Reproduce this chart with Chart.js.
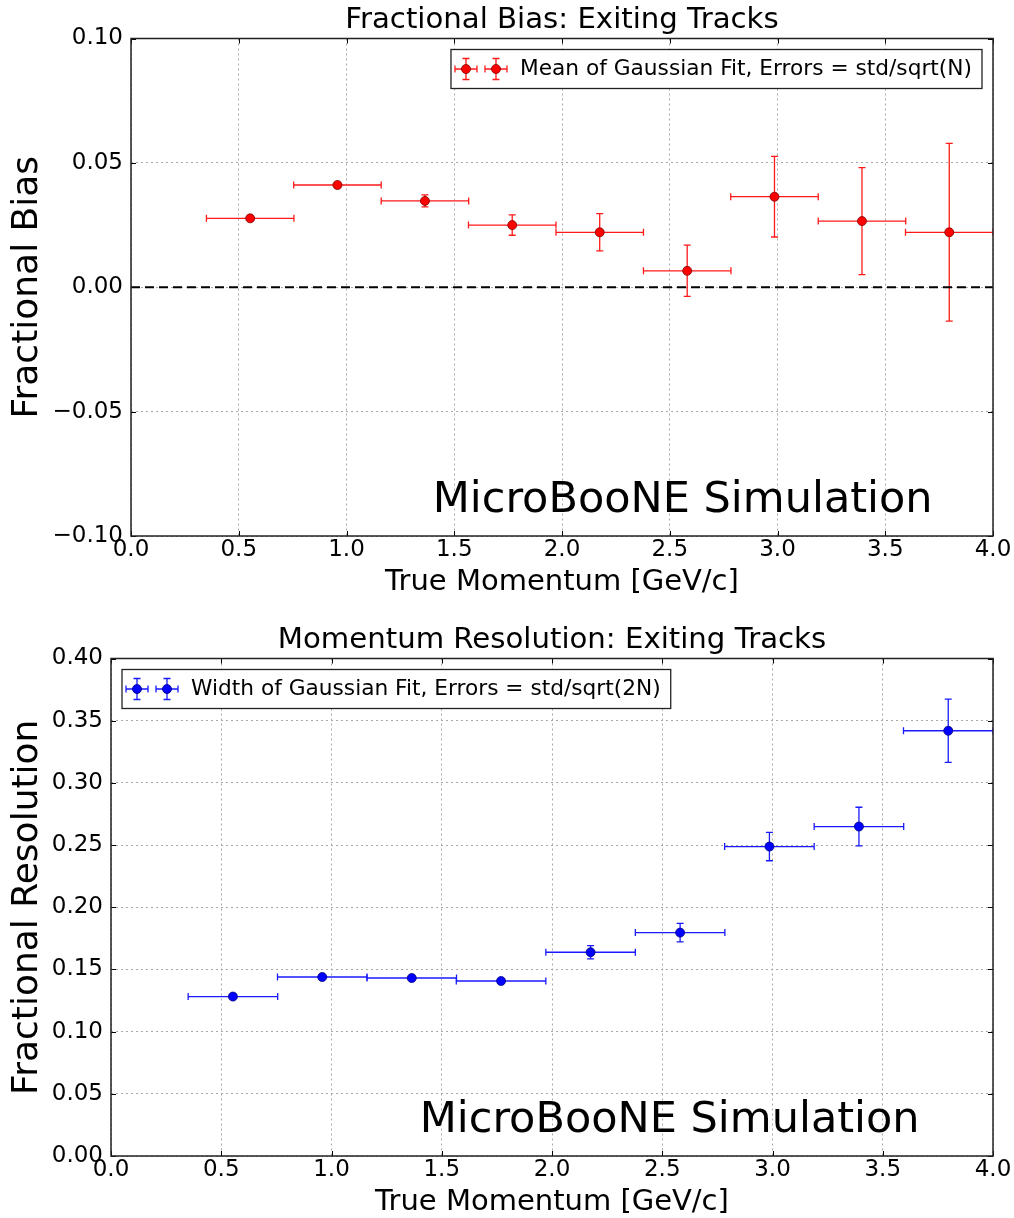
<!DOCTYPE html>
<html>
<head>
<meta charset="utf-8">
<script src="https://cdn.jsdelivr.net/npm/chart.js@4.4.0/dist/chart.umd.min.js"></script>
<style>
  html, body { margin: 0; padding: 0; background: #fff; }
  #page { position: relative; width: 1014px; height: 1218px; }
  .panel { position: absolute; left: 0; width: 1014px; height: 598px; }
</style>
</head>
<body>
<div id="page">
  <div class="panel" style="top:0"><canvas id="biasChart" width="1014" height="598"></canvas></div>
  <div class="panel" style="top:620px"><canvas id="resChart" width="1014" height="598"></canvas></div>
</div>
<script>
// bin centres [GeV/c] and half bin widths, same binning in both panels
const momentum    = [0.553, 0.958, 1.364, 1.769, 2.175, 2.581, 2.986, 3.392, 3.797];
const momentumErr = [0.203, 0.203, 0.203, 0.203, 0.203, 0.203, 0.203, 0.203, 0.203];

// top panel: mean of gaussian fit
const biasMean = [0.0277, 0.0411, 0.0347, 0.0250, 0.0221, 0.0066, 0.0364, 0.0266, 0.0221];
const biasErr  = [0.0006, 0.0008, 0.0024, 0.0041, 0.0075, 0.0103, 0.0162, 0.0215, 0.0357];

// bottom panel: width of gaussian fit
const resWidth = [0.1282, 0.1439, 0.1431, 0.1407, 0.1638, 0.1796, 0.2488, 0.2649, 0.3419];
const resErr   = [0.0010, 0.0010, 0.0010, 0.0015, 0.0053, 0.0074, 0.0114, 0.0155, 0.0254];

const xTicks    = [0, 0.5, 1.0, 1.5, 2.0, 2.5, 3.0, 3.5, 4.0];
const biasTicks = [-0.10, -0.05, 0.00, 0.05, 0.10];
const resTicks  = [0, 0.05, 0.10, 0.15, 0.20, 0.25, 0.30, 0.35, 0.40];
const zeroLineX = [0, 4];

const FONT = "'DejaVu Sans', 'Liberation Sans', sans-serif";
Chart.defaults.font.family = FONT;
Chart.defaults.color = '#000';

const fmt = (v, d) => Number(v).toFixed(d).replace('-', '\u2212');

// matplotlib style error bars (drawn under the markers)
const errorBarPlugin = {
  id: 'errorBars',
  beforeDatasetsDraw(chart) {
    const { ctx, chartArea, scales: { x, y } } = chart;
    chart.data.datasets.forEach((ds) => {
      if (!ds.xErr) return;
      ctx.save();
      ctx.beginPath();
      ctx.rect(chartArea.left, chartArea.top, chartArea.width, chartArea.height);
      ctx.clip();
      ctx.strokeStyle = ds.errColor;
      ctx.lineWidth = 1.3;
      const cap = 3.5;
      ds.data.forEach((p, i) => {
        const px = x.getPixelForValue(p.x);
        const py = y.getPixelForValue(p.y);
        const x0 = x.getPixelForValue(p.x - ds.xErr[i]);
        const x1 = x.getPixelForValue(p.x + ds.xErr[i]);
        const y0 = y.getPixelForValue(p.y - ds.yErr[i]);
        const y1 = y.getPixelForValue(p.y + ds.yErr[i]);
        ctx.beginPath();
        ctx.moveTo(x0, py); ctx.lineTo(x1, py);
        ctx.moveTo(px, y0); ctx.lineTo(px, y1);
        ctx.moveTo(x0, py - cap); ctx.lineTo(x0, py + cap);
        ctx.moveTo(x1, py - cap); ctx.lineTo(x1, py + cap);
        ctx.moveTo(px - cap, y0); ctx.lineTo(px + cap, y0);
        ctx.moveTo(px - cap, y1); ctx.lineTo(px + cap, y1);
        ctx.stroke();
      });
      ctx.restore();
    });
  }
};

// frame on all four sides, inward ticks, watermark and boxed legend
const decorPlugin = {
  id: 'decor',
  afterDatasetsDraw(chart, args, opts) {
    const { ctx, scales: { x, y } } = chart;
    ctx.save();
    ctx.font = `43px ${FONT}`;
    ctx.fillStyle = '#000';
    ctx.textAlign = 'left';
    ctx.textBaseline = 'alphabetic';
    ctx.fillText(opts.stamp, x.getPixelForValue(opts.stampX), y.getPixelForValue(opts.stampY));
    ctx.restore();
  },
  afterDraw(chart, args, opts) {
    const { ctx, chartArea: a, scales: { x, y } } = chart;
    ctx.save();
    // ticks
    ctx.strokeStyle = '#000';
    ctx.lineWidth = 1;
    ctx.beginPath();
    x.ticks.forEach((t) => {
      const px = Math.round(x.getPixelForValue(t.value)) + 0.5;
      ctx.moveTo(px, a.bottom); ctx.lineTo(px, a.bottom - 5);
      ctx.moveTo(px, a.top); ctx.lineTo(px, a.top + 5);
    });
    y.ticks.forEach((t) => {
      const py = Math.round(y.getPixelForValue(t.value)) + 0.5;
      ctx.moveTo(a.left, py); ctx.lineTo(a.left + 5, py);
      ctx.moveTo(a.right, py); ctx.lineTo(a.right - 5, py);
    });
    ctx.stroke();
    ctx.strokeStyle = '#222';
    ctx.lineWidth = 1.5;
    ctx.strokeRect(a.left, a.top, a.right - a.left, a.bottom - a.top);

    // legend
    const ds = chart.data.datasets.find((d) => d.xErr);
    ctx.font = `21.7px ${FONT}`;
    const tw = ctx.measureText(ds.label).width;
    const w = 69 + tw + 10, h = 39;
    const left = opts.legendAlign === 'right' ? a.right - 11 - w : a.left + 11;
    const top = a.top + 11;
    ctx.fillStyle = '#fff';
    ctx.fillRect(left, top, w, h);
    ctx.strokeStyle = '#222';
    ctx.lineWidth = 1.3;
    ctx.strokeRect(left, top, w, h);
    const cy = top + h / 2;
    [15, 45].forEach((dx) => {
      const cx = left + dx;
      ctx.strokeStyle = ds.errColor;
      ctx.lineWidth = 1.3;
      ctx.beginPath();
      ctx.moveTo(cx - 11, cy); ctx.lineTo(cx + 11, cy);
      ctx.moveTo(cx, cy - 10.5); ctx.lineTo(cx, cy + 10.5);
      ctx.moveTo(cx - 11, cy - 3.5); ctx.lineTo(cx - 11, cy + 3.5);
      ctx.moveTo(cx + 11, cy - 3.5); ctx.lineTo(cx + 11, cy + 3.5);
      ctx.moveTo(cx - 3.5, cy - 10.5); ctx.lineTo(cx + 3.5, cy - 10.5);
      ctx.moveTo(cx - 3.5, cy + 10.5); ctx.lineTo(cx + 3.5, cy + 10.5);
      ctx.stroke();
      ctx.beginPath();
      ctx.arc(cx, cy, 4.5, 0, Math.PI * 2);
      ctx.fillStyle = ds.pointBackgroundColor;
      ctx.fill();
      ctx.strokeStyle = ds.pointBorderColor;
      ctx.lineWidth = 0.8;
      ctx.stroke();
    });
    ctx.fillStyle = '#000';
    ctx.textAlign = 'left';
    ctx.textBaseline = 'middle';
    ctx.fillText(ds.label, left + 69, cy);
    ctx.restore();
  }
};

function makeOptions(cfg) {
  return {
    responsive: false,
    animation: false,
    devicePixelRatio: 1,
    events: [],
    layout: { padding: { left: 0, right: 21, top: 0, bottom: 0 } },
    plugins: {
      legend: { display: false },
      tooltip: { enabled: false },
      title: {
        display: true,
        text: cfg.title,
        color: '#000',
        fullSize: false,
        font: { size: 29.2, weight: 'normal', lineHeight: 1 },
        padding: { top: 5.6, bottom: 3.7 }
      },
      decor: {
        stamp: 'MicroBooNE Simulation',
        stampX: 1.40,
        stampY: cfg.stampY,
        legendAlign: cfg.legendAlign
      }
    },
    scales: {
      x: {
        type: 'linear',
        min: 0,
        max: 4,
        afterBuildTicks: (axis) => { axis.ticks = xTicks.map((v) => ({ value: v })); },
        afterFit: (axis) => { axis.height = 62; },
        ticks: {
          autoSkip: false,
          maxRotation: 0,
          padding: 0.5,
          color: '#000',
          font: { size: 23, lineHeight: 1.2 },
          callback: (v) => fmt(v, 1)
        },
        grid: { color: '#a8a8a8', lineWidth: 1, drawTicks: false, borderDash: [2, 3] },
        border: { display: false, dash: [2, 3] },
        title: {
          display: true,
          text: 'True Momentum [GeV/c]',
          color: '#000',
          font: { size: 29, lineHeight: 1 },
          padding: { top: 0, bottom: 1.5 }
        }
      },
      y: {
        type: 'linear',
        min: cfg.yMin,
        max: cfg.yMax,
        afterBuildTicks: (axis) => { axis.ticks = cfg.yTicks.map((v) => ({ value: v })); },
        afterFit: (axis) => { axis.width = cfg.yWidth; },
        ticks: {
          padding: 8,
          color: '#000',
          font: { size: 23, lineHeight: 1.2 },
          callback: (v) => fmt(v, 2)
        },
        grid: { color: '#a8a8a8', lineWidth: 1, drawTicks: false, borderDash: [2, 3] },
        border: { display: false, dash: [2, 3] },
        title: {
          display: true,
          text: cfg.yTitle,
          color: '#000',
          font: { size: 36, lineHeight: 1 },
          padding: { top: 9.5, bottom: 0 }
        }
      }
    }
  };
}

new Chart(document.getElementById('biasChart'), {
  type: 'scatter',
  data: {
    datasets: [
      {
        type: 'line',
        label: 'zero',
        data: zeroLineX.map((x) => ({ x, y: 0 })),
        borderColor: '#000',
        borderWidth: 2.2,
        borderDash: [9, 5],
        pointRadius: 0,
        order: 0
      },
      {
        label: 'Mean of Gaussian Fit, Errors = std/sqrt(N)',
        data: momentum.map((x, i) => ({ x, y: biasMean[i] })),
        xErr: momentumErr,
        yErr: biasErr,
        errColor: '#ff1a1a',
        pointRadius: 4.5,
        pointBackgroundColor: '#ff0000',
        pointBorderColor: '#7a0000',
        pointBorderWidth: 0.8,
        showLine: false,
        order: 1
      }
    ]
  },
  options: makeOptions({
    title: 'Fractional Bias: Exiting Tracks',
    yTitle: 'Fractional Bias',
    yMin: -0.1, yMax: 0.1, yTicks: biasTicks, yWidth: 131,
    stampY: -0.0903, legendAlign: 'right'
  }),
  plugins: [errorBarPlugin, decorPlugin]
});

new Chart(document.getElementById('resChart'), {
  type: 'scatter',
  data: {
    datasets: [
      {
        label: 'Width of Gaussian Fit, Errors = std/sqrt(2N)',
        data: momentum.map((x, i) => ({ x, y: resWidth[i] })),
        xErr: momentumErr,
        yErr: resErr,
        errColor: '#1a1aff',
        pointRadius: 4.5,
        pointBackgroundColor: '#0000ff',
        pointBorderColor: '#00007a',
        pointBorderWidth: 0.8,
        showLine: false
      }
    ]
  },
  options: makeOptions({
    title: 'Momentum Resolution: Exiting Tracks',
    yTitle: 'Fractional Resolution',
    yMin: 0, yMax: 0.4, yTicks: resTicks, yWidth: 111,
    stampY: 0.0195, legendAlign: 'left'
  }),
  plugins: [errorBarPlugin, decorPlugin]
});
</script>
</body>
</html>
